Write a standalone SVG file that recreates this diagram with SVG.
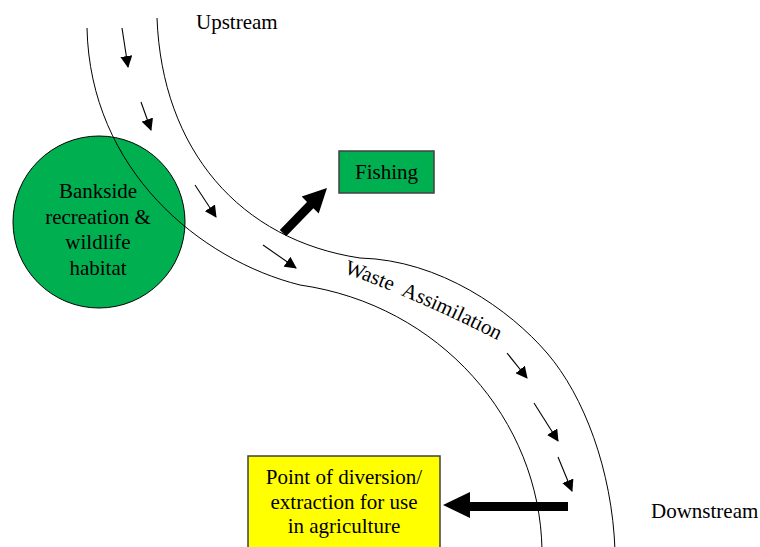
<svg xmlns="http://www.w3.org/2000/svg" width="760" height="547" viewBox="0 0 760 547">
  <defs>
    <style>
      text { font-family: "Liberation Serif", "Times New Roman", serif; font-size: 21px; fill: #000; }
      tspan { font-family: "Liberation Serif", "Times New Roman", serif; }
      .bank { fill: none; stroke: #000; stroke-width: 1; }
      .flow { fill: none; stroke: #000; stroke-width: 1.1; marker-end: url(#head); }
      .big { fill: #000; stroke: none; }
      .box { stroke: #404040; stroke-width: 1.5; }
    </style>
    <marker id="head" viewBox="0 0 12 12" refX="11" refY="6" markerWidth="12" markerHeight="12" markerUnits="userSpaceOnUse" orient="auto">
      <path d="M0,0 L12,6 L0,12 Z" fill="#000"/>
    </marker>
    <path id="wastePath" d="M344,273 Q420,300 505,344"/>
  </defs>
  <rect width="760" height="547" fill="#fff"/>

  <!-- side labels -->
  <text x="196" y="29">Upstream</text>
  <text x="651" y="518">Downstream</text>

  <!-- bankside node -->
  <g id="bankside">
    <circle cx="99" cy="222" r="86" fill="#00b050" stroke="#000" stroke-width="1"/>
    <g class="label">
      <text text-anchor="middle"><tspan x="98" y="198">Bankside</tspan><tspan x="98" y="224">recreation &amp;</tspan><tspan x="98" y="249">wildlife</tspan><tspan x="98" y="275">habitat</tspan></text>
    </g>
  </g>

  <!-- river banks -->
  <g id="river">
    <path class="bank" d="M87,28 C90,170 200,260 300,285 C440,305 540,420 542,550"/>
    <path class="bank" d="M157,18 C162,150 240,240 360,258 C440,260 510,310 547,353 C584,396 612,470 615,550"/>
    <text word-spacing="6"><textPath href="#wastePath">Waste Assimilation</textPath></text>
  </g>

  <!-- fishing node -->
  <g id="fishing">
    <rect class="box" x="339" y="151" width="95" height="42" fill="#00b050"/>
    <g class="label">
      <text text-anchor="middle"><tspan x="386.5" y="179">Fishing</tspan></text>
    </g>
  </g>

  <!-- diversion node -->
  <g id="diversion">
    <rect class="box" x="248" y="456" width="192" height="100" fill="#ffff00"/>
    <g class="label">
      <text text-anchor="middle"><tspan x="344" y="484">Point of diversion/</tspan><tspan x="344" y="509">extraction for use</tspan><tspan x="344" y="533">in agriculture</tspan></text>
    </g>
  </g>

  <!-- connectors: flow arrows and uses -->
  <g id="connectors">
    <line class="flow" x1="122" y1="28" x2="128" y2="67"/>
    <line class="flow" x1="141" y1="102" x2="151" y2="130"/>
    <line class="flow" x1="195" y1="185" x2="216" y2="217"/>
    <line class="flow" x1="263" y1="245" x2="296" y2="268"/>
    <line class="flow" x1="507" y1="353" x2="527" y2="378"/>
    <line class="flow" x1="534" y1="403" x2="558" y2="441"/>
    <line class="flow" x1="558" y1="457" x2="572" y2="491"/>
    <polygon class="big" points="286.2,236.2 313.4,208.2 318.7,213.4 327,188 301.7,196.6 307,201.9 279.8,229.9"/>
    <polygon class="big" points="568,502 470,502 470,492 443,505 470,518 470,511 568,511"/>
  </g>
</svg>
